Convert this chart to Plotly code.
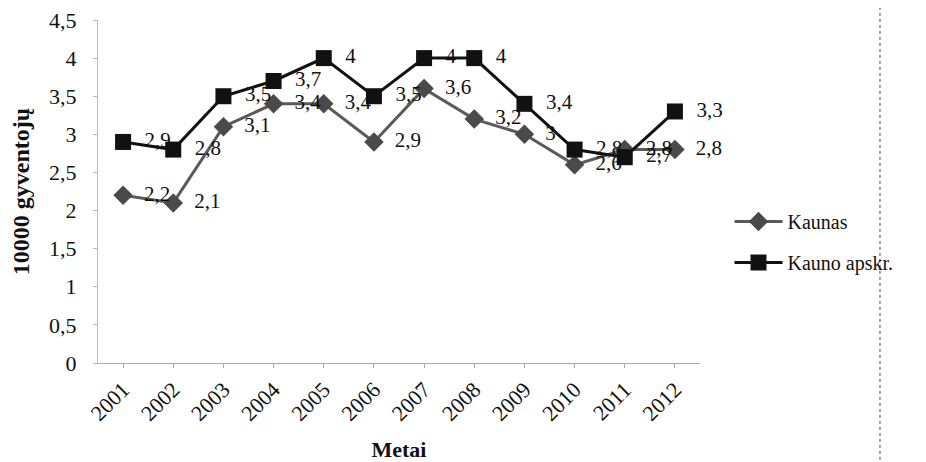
import plotly.graph_objects as go

years = ["2001", "2002", "2003", "2004", "2005", "2006", "2007", "2008", "2009", "2010", "2011", "2012"]
kaunas = [2.2, 2.1, 3.1, 3.4, 3.4, 2.9, 3.6, 3.2, 3.0, 2.6, 2.8, 2.8]
apskr = [2.9, 2.8, 3.5, 3.7, 4.0, 3.5, 4.0, 4.0, 3.4, 2.8, 2.7, 3.3]
yticks = [0, 0.5, 1, 1.5, 2, 2.5, 3, 3.5, 4, 4.5]
ytick_labels = ["0", "0,5", "1", "1,5", "2", "2,5", "3", "3,5", "4", "4,5"]

FONT = "Liberation Serif"

def fmt(v):
    s = ("%.1f" % v).rstrip("0").rstrip(".")
    return "  " + s.replace(".", ",")

fig = go.Figure()
fig.add_trace(go.Scatter(
    x=years, y=kaunas, name="Kaunas", mode="lines+markers+text",
    text=[fmt(v) for v in kaunas], textposition="middle right",
    textfont=dict(family=FONT, size=21, color="#111"),
    line=dict(color="#5a5a5a", width=3),
    marker=dict(symbol="diamond", size=15, color="#4a4a4a"),
    legendgroup="a", cliponaxis=False,
))
fig.add_trace(go.Scatter(
    x=years, y=apskr, name="Kauno apskr.", mode="lines+markers+text",
    text=[fmt(v) for v in apskr], textposition="middle right",
    textfont=dict(family=FONT, size=21, color="#111"),
    line=dict(color="#111111", width=3),
    marker=dict(symbol="square", size=16, color="#111111"),
    legendgroup="b", cliponaxis=False,
))

fig.add_shape(type="line", xref="paper", yref="paper", x0=1.299, x1=1.299,
              y0=-0.3, y1=1.06, line=dict(color="#444", width=1, dash="dot"))

fig.update_layout(
    width=926, height=462,
    margin=dict(l=90, r=234, t=12, b=107),
    paper_bgcolor="white", plot_bgcolor="white",
    font=dict(family=FONT, color="#111"),
    showlegend=True,
    legend=dict(x=1.049, y=0.353, xanchor="left", yanchor="middle",
                font=dict(family=FONT, size=20, color="#111"),
                bgcolor="rgba(0,0,0,0)", tracegroupgap=12, itemwidth=48),
    xaxis=dict(
        type="category", range=[-0.5, 11.5], automargin=False,
        tickangle=-45, tickfont=dict(family=FONT, size=22, color="#111"),
        showline=True, linecolor="#aaaaaa", linewidth=1,
        ticks="outside", ticklen=4, tickcolor="#aaaaaa",
        showgrid=False, zeroline=False,
        title=dict(text="<b>Metai</b>", font=dict(family=FONT, size=22, color="#111"), standoff=16),
    ),
    yaxis=dict(
        range=[0, 4.5], tickvals=yticks, ticktext=ytick_labels, automargin=False,
        tickfont=dict(family=FONT, size=22, color="#111"),
        ticklabeloverflow="allow", ticklabelstandoff=12,
        showline=True, linecolor="#bbbbbb", linewidth=1,
        ticks="outside", ticklen=4, tickcolor="#bbbbbb",
        showgrid=False, zeroline=False,
        title=dict(text="<b>10000 gyventojų</b>", font=dict(family=FONT, size=24, color="#111"), standoff=20),
    ),
)

fig.write_html("out.html")
